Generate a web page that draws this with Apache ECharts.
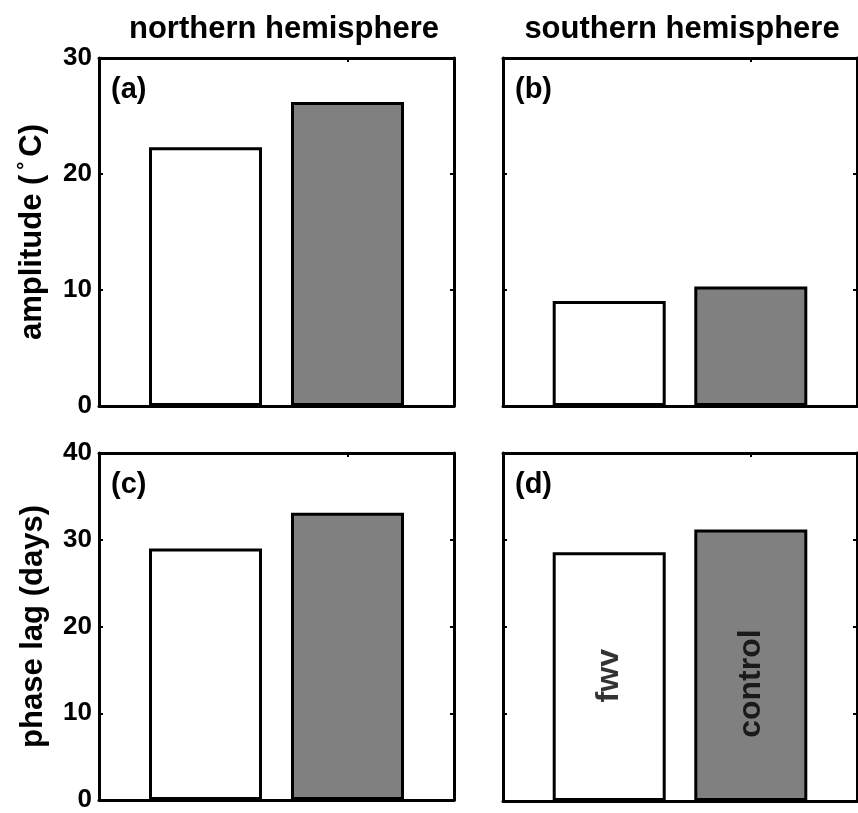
<!DOCTYPE html>
<html>
<head>
<meta charset="utf-8">
<script src="https://cdn.jsdelivr.net/npm/echarts@6/dist/echarts.min.js"></script>
<style>
  html, body { margin: 0; padding: 0; background: #fff; }
  #chart { width: 858px; height: 813px; }
</style>
</head>
<body>
<div id="chart"></div>
<script>
// bar data
const categories = ["fwv", "control"];
const barPositions = [1, 2];
const barColors = ["#ffffff", "#808080"];
const ampNorth = [22.3, 26.2];
const ampSouth = [9.05, 10.3];
const lagNorth = [29.0, 33.1];
const lagSouth = [28.6, 31.2];
const columnTitles = ["northern hemisphere", "southern hemisphere"];
const panelLetters = ["(a)", "(b)", "(c)", "(d)"];
const labelHeights = [14.4, 13.5]; // where fwv / control sit on the phase lag axis

const FONT = "'Liberation Sans', Arial, sans-serif";

const grids = [
  { left: 99, top: 58, width: 355, height: 348 },
  { left: 503, top: 58, width: 354, height: 348 },
  { left: 99, top: 453, width: 355, height: 348 },
  { left: 503, top: 453, width: 354, height: 348 },
];

const panels = [
  { data: ampNorth, max: 30, labels: true, name: "{t|amplitude (}{d|°}{t|C)}" },
  { data: ampSouth, max: 30, labels: false, name: "" },
  { data: lagNorth, max: 40, labels: true, name: "phase lag (days)" },
  { data: lagSouth, max: 40, labels: false, name: "" },
];

const lineStyle = { color: "#000", width: 3 };

const xAxis = [];
const yAxis = [];
const series = [];

panels.forEach((p, i) => {
  // bottom and top x axes
  ["bottom", "top"].forEach((pos) => {
    xAxis.push({
      type: "value",
      gridIndex: i,
      position: pos,
      min: 0.25,
      max: 2.75,
      axisLine: { show: true, onZero: false, lineStyle },
      axisTick: { show: true, inside: true, length: 4, customValues: [2], lineStyle: { color: "#000", width: 2 } },
      axisLabel: { show: false },
      splitLine: { show: false },
    });
  });
  // left and right y axes
  ["left", "right"].forEach((pos) => {
    yAxis.push({
      type: "value",
      gridIndex: i,
      position: pos,
      min: 0,
      max: p.max,
      interval: 10,
      name: pos === "left" ? p.name : "",
      nameLocation: "middle",
      nameRotate: 90,
      nameGap: 50,
      nameTextStyle: {
        fontFamily: FONT, fontWeight: "bold", fontSize: 31, color: "#000",
        rich: {
          t: { fontFamily: FONT, fontWeight: "bold", fontSize: 31, color: "#000" },
          d: { fontFamily: FONT, fontSize: 20, color: "#000", verticalAlign: "top", padding: [0, 5, 14, 5] },
        },
      },
      axisLine: { show: true, onZero: false, lineStyle },
      axisTick: { show: true, inside: true, length: 4, lineStyle: { color: "#000", width: 2 } },
      axisLabel: {
        show: pos === "left" && p.labels,
        fontFamily: FONT, fontWeight: "bold", fontSize: 26, color: "#000", margin: 7,
      },
      splitLine: { show: false },
    });
  });

  series.push({
    type: "bar",
    xAxisIndex: i * 2,
    yAxisIndex: i * 2,
    barWidth: 113,
    data: p.data.map((v, k) => ({
      value: [barPositions[k], v],
      itemStyle: { color: barColors[k], borderColor: "#000", borderWidth: 3 },
    })),
    silent: true,
    animation: false,
  });
});

// fwv / control labels inside the bars of panel (d)
series.push({
  type: "scatter",
  xAxisIndex: 6,
  yAxisIndex: 6,
  symbolSize: 0,
  data: categories.map((c, k) => ({ value: [barPositions[k], labelHeights[k]], name: c })),
  label: {
    show: true,
    position: "inside",
    rotate: 90,
    formatter: (d) => d.name,
    fontFamily: FONT, fontWeight: "bold", fontSize: 32, color: "#000",
  },
  silent: true,
  animation: false,
});

const graphic = [];
const titleCenters = [284, 682];
columnTitles.forEach((t, c) => {
  graphic.push({
    type: "text",
    x: titleCenters[c],
    y: 29,
    style: {
      text: t, fontFamily: FONT, fontWeight: "bold", fontSize: 31, fill: "#000",
      align: "center", verticalAlign: "middle",
    },
  });
});
panelLetters.forEach((t, i) => {
  graphic.push({
    type: "text",
    x: grids[i].left + 12,
    y: grids[i].top + 17,
    style: { text: t, fontFamily: FONT, fontWeight: "bold", fontSize: 29, fill: "#000" },
  });
});

const chart = echarts.init(document.getElementById("chart"));
chart.setOption({
  animation: false,
  backgroundColor: "#fff",
  grid: grids,
  xAxis,
  yAxis,
  series,
  graphic,
});
</script>
</body>
</html>
